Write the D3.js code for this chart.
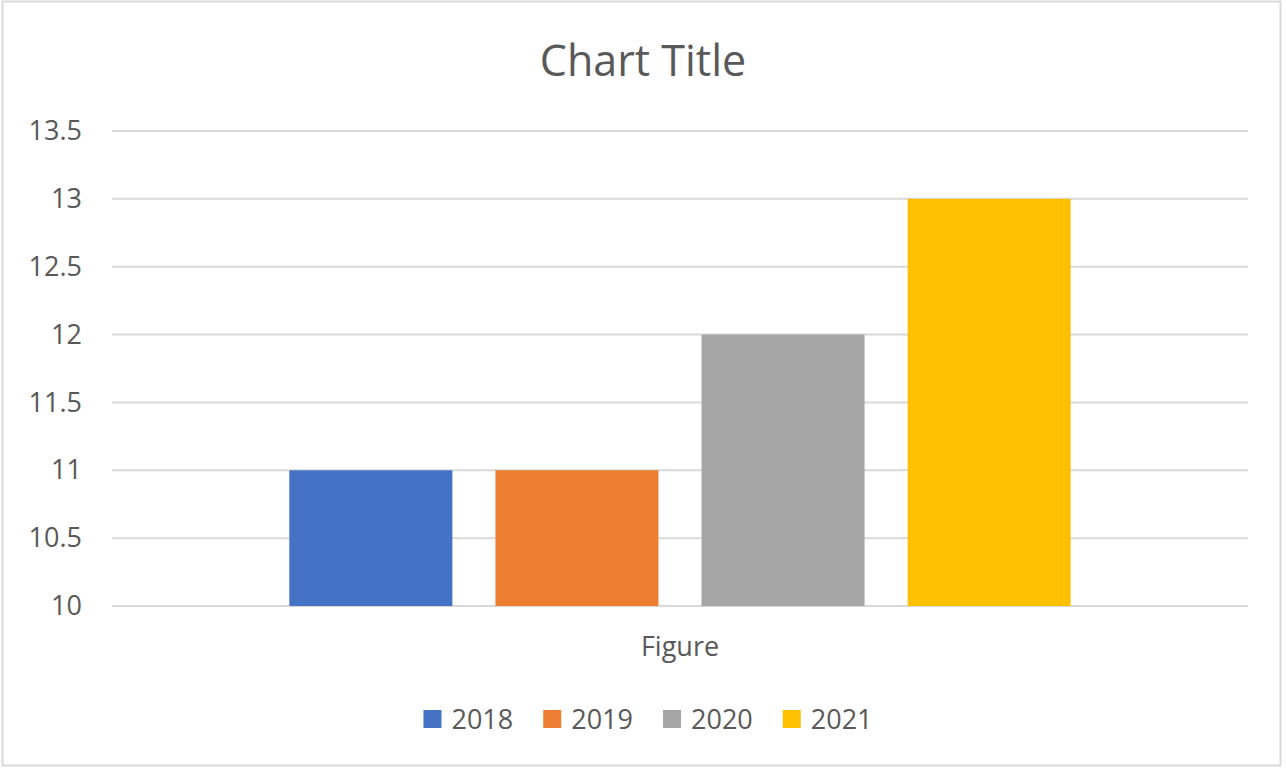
<!DOCTYPE html>
<html>
<head>
<meta charset="utf-8">
<script src="https://cdn.jsdelivr.net/npm/d3@7"></script>
<style>
  body { margin: 0; background: #fff; }
  svg { display: block; font-family: "Open Sans", sans-serif; }
</style>
</head>
<body>
<svg width="1286" height="769"></svg>
<script>
// data
var categories = ["Figure"];
var seriesNames = ["2018", "2019", "2020", "2021"];
var seriesValues = [11, 11, 12, 13];
var seriesColors = ["#4472C4", "#ED7D31", "#A5A5A5", "#FFC000"];
var yTicks = [10, 10.5, 11, 11.5, 12, 12.5, 13, 13.5];

var svg = d3.select("svg");
var textColor = "#595959";
var smallFont = "27px";

// chart border
svg.append("rect")
  .attr("x", 2.5).attr("y", 1.5)
  .attr("width", 1278).attr("height", 764)
  .attr("fill", "#fff")
  .attr("stroke", "#d9d9d9")
  .attr("stroke-width", 2);

// plot area (note: "top" is taken by window.top, so use other names)
var plotLeft = 112, plotRight = 1248, plotTop = 131, plotBottom = 606;

var yScale = d3.scaleLinear().domain([10, 13.5]).range([plotBottom, plotTop]);

var x0 = d3.scaleBand().domain(categories).range([plotLeft, plotRight])
  .paddingInner(0).paddingOuter(0.189);
var x1 = d3.scaleBand().domain(seriesNames).range([0, x0.bandwidth()])
  .paddingInner(0.209).paddingOuter(0.1045);

// gridlines
svg.append("g")
  .selectAll("line")
  .data(yTicks)
  .enter().append("line")
  .attr("x1", plotLeft).attr("x2", plotRight)
  .attr("y1", function(d) { return yScale(d); })
  .attr("y2", function(d) { return yScale(d); })
  .attr("stroke", "#d9d9d9")
  .attr("stroke-width", 2);

// y axis labels
var yAxis = svg.append("g")
  .attr("transform", "translate(" + (plotLeft - 30) + ",0)")
  .call(d3.axisLeft(yScale).tickValues(yTicks).tickSize(0).tickPadding(0)
    .tickFormat(function(d) { return d3.format("")(d); }));
yAxis.select(".domain").remove();
yAxis.selectAll("text")
  .attr("fill", textColor)
  .style("font-size", smallFont)
  .style("font-family", "Open Sans");

// bars
var group = svg.append("g")
  .attr("transform", "translate(" + x0(categories[0]) + ",0)");

group.selectAll("rect")
  .data(seriesNames)
  .enter().append("rect")
  .attr("x", function(d) { return x1(d); })
  .attr("y", function(d, i) { return yScale(seriesValues[i]); })
  .attr("width", x1.bandwidth())
  .attr("height", function(d, i) { return yScale(10) - yScale(seriesValues[i]); })
  .attr("fill", function(d, i) { return seriesColors[i]; });

// category axis label
var xAxis = svg.append("g")
  .attr("transform", "translate(0," + plotBottom + ")")
  .call(d3.axisBottom(x0).tickSize(0).tickPadding(31));
xAxis.select(".domain").remove();
xAxis.selectAll("text")
  .attr("fill", textColor)
  .style("font-size", smallFont)
  .style("font-family", "Open Sans");

// title
svg.append("text")
  .attr("x", 643).attr("y", 76)
  .attr("text-anchor", "middle")
  .attr("fill", textColor)
  .style("font-size", "43px")
  .text("Chart Title");

// legend
var legend = svg.append("g");
var items = legend.selectAll("g")
  .data(seriesNames)
  .enter().append("g");

items.append("rect")
  .attr("width", 18).attr("height", 18)
  .attr("y", 710)
  .attr("fill", function(d, i) { return seriesColors[i]; });

items.append("text")
  .attr("x", 28).attr("y", 729)
  .attr("fill", textColor)
  .style("font-size", smallFont)
  .text(function(d) { return d; });

var gap = 30;
var pos = 0;
items.each(function() {
  var w = d3.select(this).select("text").node().getComputedTextLength();
  d3.select(this).attr("transform", "translate(" + pos + ",0)");
  pos += 28 + w + gap;
});
pos -= gap;
legend.attr("transform", "translate(" + (648 - pos / 2) + ",0)");
</script>
</body>
</html>
